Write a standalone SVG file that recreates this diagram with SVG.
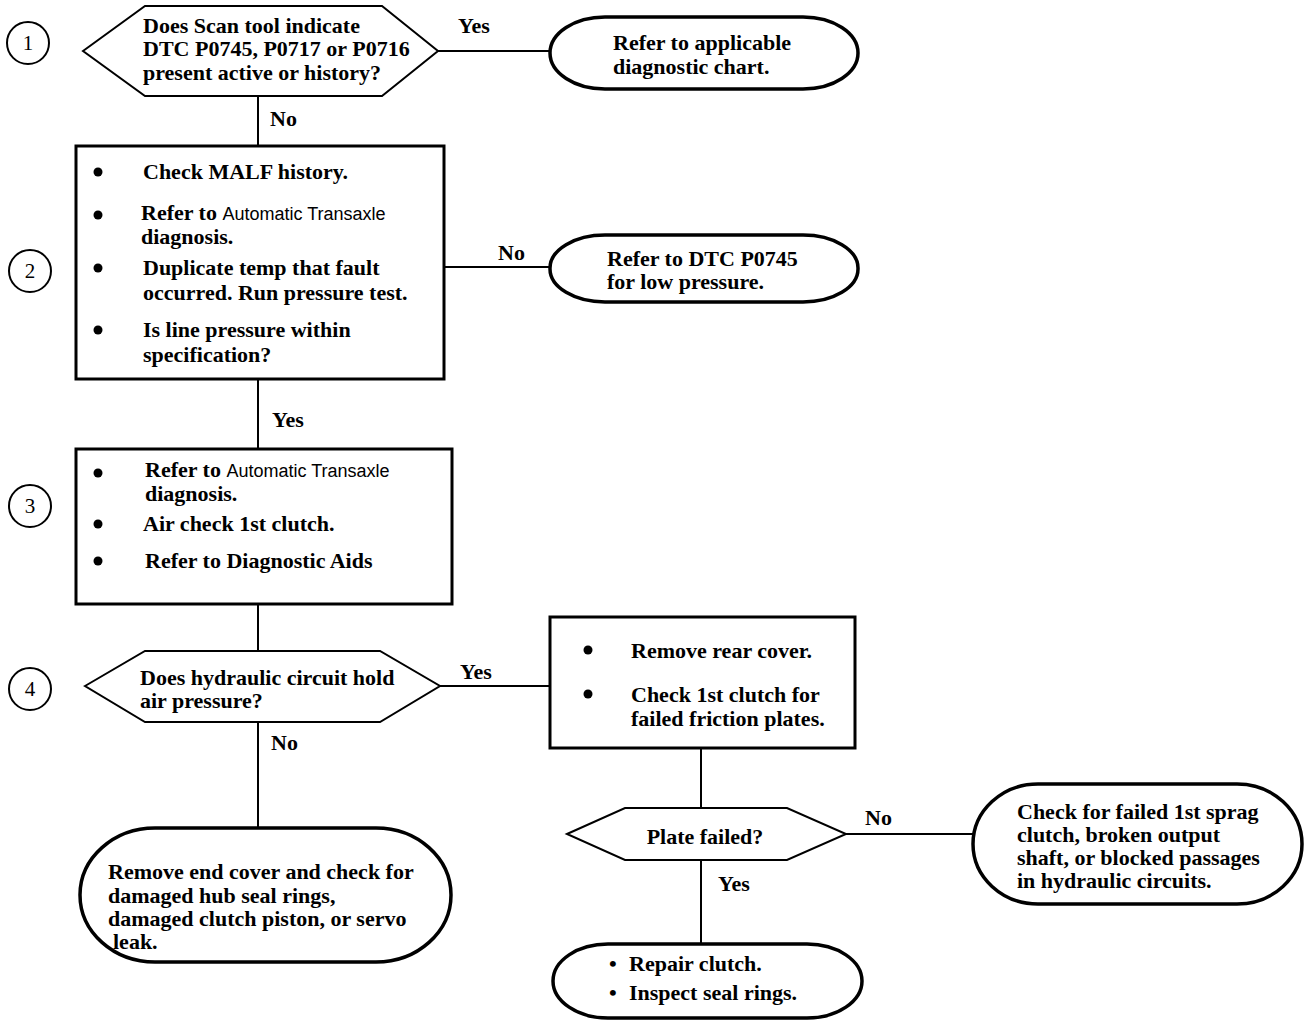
<svg xmlns="http://www.w3.org/2000/svg" width="1312" height="1028" viewBox="0 0 1312 1028">
<style>
.t{font-family:"Liberation Serif","Times New Roman",serif;font-size:22px;font-weight:bold;fill:#000}
.s{font-family:"Liberation Sans",Arial,sans-serif;font-size:18px;font-weight:normal}
.n{font-family:"Liberation Serif","Times New Roman",serif;font-size:21px;fill:#000}
.box{fill:#fff;stroke:#000;stroke-width:3}
.hex{fill:#fff;stroke:#000;stroke-width:2}
.ov{fill:#fff;stroke:#000;stroke-width:3.5}
.num{fill:#fff;stroke:#000;stroke-width:2}
.ln{stroke:#000;stroke-width:2;fill:none}
</style>
<rect width="1312" height="1028" fill="#fff"/>
<g id="connectors">
<line class="ln" x1="438" y1="51" x2="550" y2="51"/>
<line class="ln" x1="258" y1="96" x2="258" y2="146"/>
<line class="ln" x1="444" y1="267" x2="550" y2="267"/>
<line class="ln" x1="258" y1="379" x2="258" y2="449"/>
<line class="ln" x1="258" y1="604" x2="258" y2="651"/>
<line class="ln" x1="440" y1="686" x2="550" y2="686"/>
<line class="ln" x1="258" y1="722" x2="258" y2="828"/>
<line class="ln" x1="701" y1="748" x2="701" y2="808"/>
<line class="ln" x1="846" y1="834" x2="973" y2="834"/>
<line class="ln" x1="701" y1="860" x2="701" y2="945"/>
<text class="t" x="458" y="33">Yes</text>
<text class="t" x="270" y="126">No</text>
<text class="t" x="498" y="260">No</text>
<text class="t" x="272" y="427">Yes</text>
<text class="t" x="460" y="679">Yes</text>
<text class="t" x="271" y="750">No</text>
<text class="t" x="865" y="825">No</text>
<text class="t" x="718" y="891">Yes</text>
</g>
<g id="step1">
<circle class="num" cx="28" cy="43" r="21"/>
<text class="n" x="28" y="50" text-anchor="middle">1</text>
</g>
<g id="step2">
<circle class="num" cx="30" cy="271" r="21"/>
<text class="n" x="30" y="278" text-anchor="middle">2</text>
</g>
<g id="step3">
<circle class="num" cx="30" cy="506" r="21"/>
<text class="n" x="30" y="513" text-anchor="middle">3</text>
</g>
<g id="step4">
<circle class="num" cx="30" cy="689" r="21"/>
<text class="n" x="30" y="696" text-anchor="middle">4</text>
</g>
<g id="decision1">
<polygon class="hex" points="83,51 145,6 382,6 438,51 382,96 145,96"/>
<text class="t" x="143" y="33">Does Scan tool indicate</text>
<text class="t" x="143" y="56">DTC P0745, P0717 or P0716</text>
<text class="t" x="143" y="80">present active or history?</text>
</g>
<g id="term1">
<rect class="ov" x="550" y="17" width="308" height="72" rx="55" ry="36"/>
<text class="t" x="613" y="50">Refer to applicable</text>
<text class="t" x="613" y="74">diagnostic chart.</text>
</g>
<g id="box2">
<rect class="box" x="76" y="146" width="368" height="233"/>
<circle cx="98" cy="172" r="4.5"/>
<text class="t" x="143" y="179">Check MALF history.</text>
<circle cx="98" cy="215" r="4.5"/>
<text class="t" x="141" y="220">Refer to <tspan class="s">Automatic Transaxle</tspan></text>
<text class="t" x="141" y="244">diagnosis.</text>
<circle cx="98" cy="268" r="4.5"/>
<text class="t" x="143" y="275">Duplicate temp that fault</text>
<text class="t" x="143" y="300">occurred. Run pressure test.</text>
<circle cx="98" cy="330" r="4.5"/>
<text class="t" x="143" y="337">Is line pressure within</text>
<text class="t" x="143" y="362">specification?</text>
</g>
<g id="term2">
<rect class="ov" x="550" y="235" width="308" height="67" rx="55" ry="33"/>
<text class="t" x="607" y="266">Refer to DTC P0745</text>
<text class="t" x="607" y="289">for low pressure.</text>
</g>
<g id="box3">
<rect class="box" x="76" y="449" width="376" height="155"/>
<circle cx="98" cy="473" r="4.5"/>
<text class="t" x="145" y="477">Refer to <tspan class="s">Automatic Transaxle</tspan></text>
<text class="t" x="145" y="501">diagnosis.</text>
<circle cx="98" cy="524" r="4.5"/>
<text class="t" x="143" y="531">Air check 1st clutch.</text>
<circle cx="98" cy="561" r="4.5"/>
<text class="t" x="145" y="568">Refer to Diagnostic Aids</text>
</g>
<g id="decision4">
<polygon class="hex" points="85,686 145,651 380,651 440,686 380,722 145,722"/>
<text class="t" x="140" y="685">Does hydraulic circuit hold</text>
<text class="t" x="140" y="708">air pressure?</text>
</g>
<g id="box4">
<rect class="box" x="550" y="617" width="305" height="131"/>
<circle cx="588" cy="650" r="4.5"/>
<text class="t" x="631" y="658">Remove rear cover.</text>
<circle cx="588" cy="694" r="4.5"/>
<text class="t" x="631" y="702">Check 1st clutch for</text>
<text class="t" x="631" y="726">failed friction plates.</text>
</g>
<g id="term5">
<rect class="ov" x="80" y="828" width="371" height="134" rx="75" ry="67"/>
<text class="t" x="108" y="879">Remove end cover and check for</text>
<text class="t" x="108" y="903">damaged hub seal rings,</text>
<text class="t" x="108" y="926">damaged clutch piston, or servo</text>
<text class="t" x="113" y="949">leak.</text>
</g>
<g id="decision5">
<polygon class="hex" points="567,834 625,808 787,808 846,834 787,860 625,860"/>
<text class="t" x="705" y="844" text-anchor="middle">Plate failed?</text>
</g>
<g id="term6">
<rect class="ov" x="973" y="784" width="329" height="120" rx="65" ry="60"/>
<text class="t" x="1017" y="819">Check for failed 1st sprag</text>
<text class="t" x="1017" y="842">clutch, broken output</text>
<text class="t" x="1017" y="865">shaft, or blocked passages</text>
<text class="t" x="1017" y="888">in hydraulic circuits.</text>
</g>
<g id="term7">
<rect class="ov" x="553" y="944" width="309" height="74" rx="55" ry="37"/>
<text class="t" x="609" y="971">•</text>
<text class="t" x="629" y="971">Repair clutch.</text>
<text class="t" x="609" y="1000">•</text>
<text class="t" x="629" y="1000">Inspect seal rings.</text>
</g>
</svg>
